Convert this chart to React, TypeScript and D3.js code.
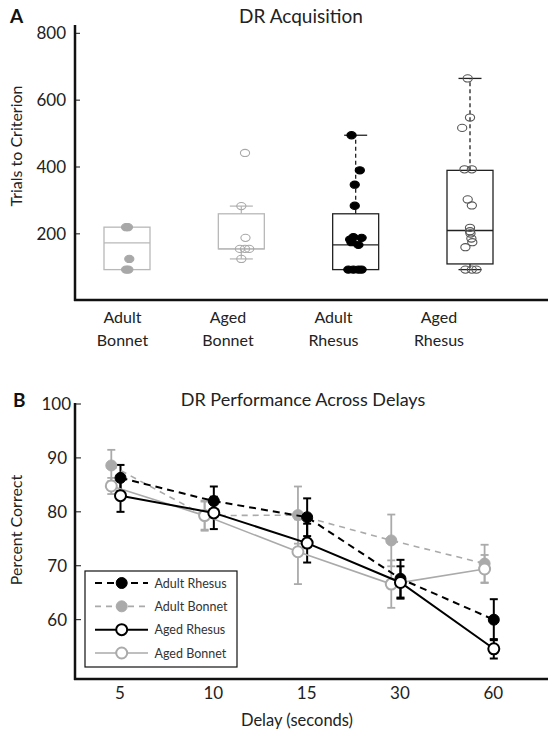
import React from "react";
import * as d3 from "d3";

// ---------- Panel A data ----------
const groupsA = ["Adult Bonnet", "Aged Bonnet", "Adult Rhesus", "Aged Rhesus"];
const labelTop = ["Adult", "Aged", "Adult", "Aged"];
const labelBottom = ["Bonnet", "Bonnet", "Rhesus", "Rhesus"];
const boxMin = [93, 125, 93, 93];
const boxQ1 = [93, 155, 93, 110];
const boxMedian = [173, 155, 167, 210];
const boxQ3 = [220, 260, 260, 390];
const boxMax = [220, 283, 495, 665];
const ticksA = [200, 400, 600, 800];

const ptsAdultBonnet = [220, 220, 125, 93, 93];
const jitAdultBonnet = [-0.02, 0.02, 0.05, -0.02, 0.03];
const ptsAgedBonnet = [442, 283, 188, 155, 155, 155, 125];
const jitAgedBonnet = [0.08, 0.0, 0.09, -0.03, 0.08, 0.17, 0.0];
const ptsAdultRhesus = [495, 390, 347, 284, 183, 190, 188, 175, 167, 93, 93, 93, 93];
const jitAdultRhesus = [-0.09, 0.09, -0.02, -0.02, -0.12, -0.05, 0.13, -0.09, 0.06, -0.16, -0.05, 0.06, 0.13];
const ptsAgedRhesus = [665, 548, 517, 393, 393, 303, 285, 218, 208, 201, 186, 175, 160, 93, 93, 93];
const jitAgedRhesus = [-0.05, 0.0, -0.17, -0.12, 0.04, -0.05, 0.04, 0.0, 0.0, 0.01, 0.03, 0.05, -0.1, -0.1, 0.04, 0.14];

const pointSets = [ptsAdultBonnet, ptsAgedBonnet, ptsAdultRhesus, ptsAgedRhesus];
const jitterSets = [jitAdultBonnet, jitAgedBonnet, jitAdultRhesus, jitAgedRhesus];

// ---------- Panel B data ----------
const delays = ["5", "10", "15", "30", "60"];
const ticksB = [60, 70, 80, 90, 100];
const seriesNames = ["Adult Rhesus", "Adult Bonnet", "Aged Rhesus", "Aged Bonnet"];
const adultRhesusMean = [86.3, 82.0, 79.0, 67.6, 60.0];
const adultRhesusErr = [2.4, 2.7, 3.5, 3.5, 3.8];
const adultBonnetMean = [88.6, 79.3, 79.4, 74.7, 70.4];
const adultBonnetErr = [2.9, 2.8, 5.3, 4.8, 3.5];
const agedRhesusMean = [83.0, 79.8, 74.2, 66.9, 54.6];
const agedRhesusErr = [3.0, 3.0, 3.6, 3.0, 1.8];
const agedBonnetMean = [84.8, 79.3, 72.6, 66.6, 69.4];
const agedBonnetErr = [1.5, 2.6, 6.0, 4.4, 2.6];

const FONT = "Lato, 'Open Sans', sans-serif";

export default function App() {
  const W = 557,
    H = 737;

  // Panel A scales
  const yA = d3.scaleLinear().domain([0, 800]).range([300.7, 33.3]);
  const xA = d3.scalePoint<string>().domain(groupsA).range([127, 470]);
  const xALabel = d3.scalePoint<string>().domain(groupsA).range([122.5, 439]);
  const boxW = 46;
  const capW = 23;
  const boxColor = ["#b8b8b8", "#b8b8b8", "#222", "#222"];
  const ptFill = ["#a8a8a8", "none", "#000", "none"];
  const ptStroke = ["#a8a8a8", "#a8a8a8", "#000", "#555"];
  const dashedWhisker = [false, false, true, true];

  // Panel B scales
  const yB = d3.scaleLinear().domain([49, 100]).range([679, 404]);
  const xB = d3.scalePoint<string>().domain(delays).range([120, 493.3]);
  const off = [0.5, -8.7, 0.5, -8.7];
  const means = [adultRhesusMean, adultBonnetMean, agedRhesusMean, agedBonnetMean];
  const errs = [adultRhesusErr, adultBonnetErr, agedRhesusErr, agedBonnetErr];
  const color = ["#000", "#aaa", "#000", "#aaa"];
  const dash = ["7,5", "6,5", null, null];
  const lw = [2, 1.6, 2, 1.6];
  const filled = [true, true, false, false];
  const drawOrder = [1, 3, 0, 2];

  const line = (k: number) =>
    d3
      .line<number>()
      .x((_, i) => (xB(delays[i]) as number) + off[k])
      .y((v) => yB(v))(means[k]) as string;

  const legendY = d3.scalePoint<string>().domain(seriesNames).range([583, 653]);

  return (
    <svg
      width={W}
      height={H}
      style={{ position: "absolute", left: 0, top: 0, background: "#fff" }}
      fontFamily={FONT}
    >
      <rect width={W} height={H} fill="#fff" />
      {/* ================= Panel A ================= */}
      <text x={10} y={23} fontSize={19} fontWeight="bold" fill="#111">A</text>
      <text x={301} y={23} fontSize={19} textAnchor="middle" fill="#222">DR Acquisition</text>
      <text
        transform={`translate(22,${146}) rotate(-90)`}
        fontSize={16}
        textAnchor="middle"
        fill="#222"
      >
        Trials to Criterion
      </text>
      {/* axes */}
      <line x1={75} x2={75} y1={25} y2={301} stroke="#111" strokeWidth={2.5} />
      <line x1={74} x2={548} y1={300} y2={300} stroke="#111" strokeWidth={2.5} />
      {ticksA.map((t) => (
        <g key={t}>
          <line x1={75} x2={80} y1={yA(t)} y2={yA(t)} stroke="#111" strokeWidth={1} />
          <text x={66} y={yA(t) + 6} fontSize={17} textAnchor="end" fill="#222">
            {t}
          </text>
        </g>
      ))}
      {groupsA.map((g, i) => (
        <g key={g}>
          <text x={xALabel(g)} y={323} fontSize={16} textAnchor="middle" fill="#222">
            {labelTop[i]}
          </text>
          <text x={xALabel(g)} y={346} fontSize={16} textAnchor="middle" fill="#222">
            {labelBottom[i]}
          </text>
        </g>
      ))}
      {/* boxes */}
      {groupsA.map((g, i) => {
        const cx = xA(g) as number;
        return (
          <g key={g} stroke={boxColor[i]} fill="none" strokeWidth={1.3}>
            {boxMax[i] > boxQ3[i] && (
              <>
                <line
                  x1={cx}
                  x2={cx}
                  y1={yA(boxQ3[i])}
                  y2={yA(boxMax[i])}
                  strokeDasharray={dashedWhisker[i] ? "4,3" : undefined}
                />
                <line x1={cx - capW / 2} x2={cx + capW / 2} y1={yA(boxMax[i])} y2={yA(boxMax[i])} />
              </>
            )}
            {boxMin[i] < boxQ1[i] && (
              <>
                <line
                  x1={cx}
                  x2={cx}
                  y1={yA(boxQ1[i])}
                  y2={yA(boxMin[i])}
                  strokeDasharray={dashedWhisker[i] ? "4,3" : undefined}
                />
                <line x1={cx - capW / 2} x2={cx + capW / 2} y1={yA(boxMin[i])} y2={yA(boxMin[i])} />
              </>
            )}
            <rect
              x={cx - boxW / 2}
              y={yA(boxQ3[i])}
              width={boxW}
              height={yA(boxQ1[i]) - yA(boxQ3[i])}
            />
            <line x1={cx - boxW / 2} x2={cx + boxW / 2} y1={yA(boxMedian[i])} y2={yA(boxMedian[i])} />
            {pointSets[i].map((v, j) => (
              <ellipse
                key={j}
                cx={cx + jitterSets[i][j] * boxW}
                cy={yA(v)}
                rx={4.6}
                ry={3.6}
                fill={ptFill[i]}
                stroke={ptStroke[i]}
                strokeWidth={1.1}
              />
            ))}
          </g>
        );
      })}

      {/* ================= Panel B ================= */}
      <text x={13} y={407} fontSize={19} fontWeight="bold" fill="#111">B</text>
      <text x={303} y={406} fontSize={18} textAnchor="middle" fill="#222">
        DR Performance Across Delays
      </text>
      <text
        transform={`translate(22,${530}) rotate(-90)`}
        fontSize={16}
        textAnchor="middle"
        fill="#222"
      >
        Percent Correct
      </text>
      <line x1={75} x2={75} y1={403} y2={680} stroke="#111" strokeWidth={2.5} />
      <line x1={74} x2={548} y1={679} y2={679} stroke="#111" strokeWidth={2.5} />
      {ticksB.map((t) => (
        <g key={t}>
          <line x1={75} x2={81} y1={yB(t)} y2={yB(t)} stroke="#111" strokeWidth={1} />
          <text x={t === 100 ? 71 : 67} y={yB(t) + 6} fontSize={17} textAnchor="end" fill="#222">
            {t}
          </text>
        </g>
      ))}
      {delays.map((d) => (
        <text key={d} x={xB(d)} y={699} fontSize={17} textAnchor="middle" fill="#222">
          {d}
        </text>
      ))}
      <text x={297} y={726} fontSize={16.5} textAnchor="middle" fill="#222">
        Delay (seconds)
      </text>

      {/* error bars */}
      {drawOrder.map((k) => (
        <g key={"e" + k} stroke={color[k]} strokeWidth={k % 2 === 0 ? 2 : 1.8}>
          {means[k].map((m, i) => {
            const x = (xB(delays[i]) as number) + off[k];
            return (
              <g key={i}>
                <line x1={x} x2={x} y1={yB(m - errs[k][i])} y2={yB(m + errs[k][i])} />
                <line x1={x - 4} x2={x + 4} y1={yB(m - errs[k][i])} y2={yB(m - errs[k][i])} />
                <line x1={x - 4} x2={x + 4} y1={yB(m + errs[k][i])} y2={yB(m + errs[k][i])} />
              </g>
            );
          })}
        </g>
      ))}
      {/* lines and markers */}
      {drawOrder.map((k) => (
        <g key={"l" + k}>
          <path
            d={line(k)}
            fill="none"
            stroke={color[k]}
            strokeWidth={lw[k]}
            strokeDasharray={dash[k] ?? undefined}
          />
          {means[k].map((m, i) => (
            <circle
              key={i}
              cx={(xB(delays[i]) as number) + off[k]}
              cy={yB(m)}
              r={5.5}
              fill={filled[k] ? color[k] : "#fff"}
              stroke={color[k]}
              strokeWidth={filled[k] ? 1 : 2}
            />
          ))}
        </g>
      ))}

      {/* legend */}
      <rect x={85} y={571} width={152} height={96} fill="#fff" stroke="#111" strokeWidth={1.2} />
      {seriesNames.map((s, k) => {
        const y = legendY(s) as number;
        return (
          <g key={s}>
            <line
              x1={95}
              x2={148}
              y1={y}
              y2={y}
              stroke={color[k]}
              strokeWidth={lw[k]}
              strokeDasharray={dash[k] ?? undefined}
            />
            <circle
              cx={121.7}
              cy={y}
              r={5.5}
              fill={filled[k] ? color[k] : "#fff"}
              stroke={color[k]}
              strokeWidth={filled[k] ? 1 : 2}
            />
            <text x={154.5} y={y + 4.5} fontSize={12.5} fill="#333">
              {s}
            </text>
          </g>
        );
      })}
    </svg>
  );
}
